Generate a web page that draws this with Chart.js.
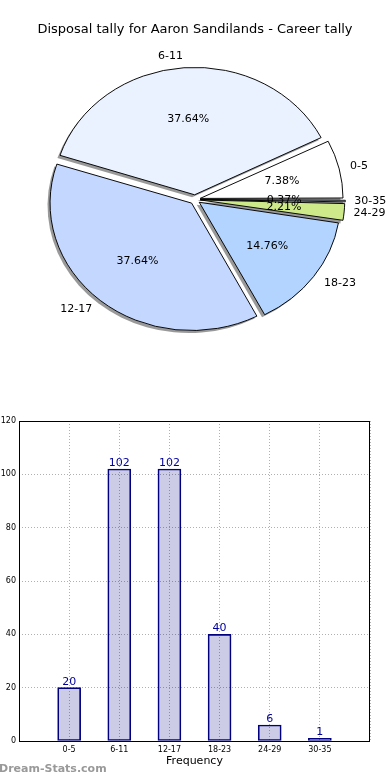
<!DOCTYPE html>
<html>
<head>
<meta charset="utf-8">
<title>Disposal tally</title>
<script src="https://cdn.jsdelivr.net/npm/chart.js@4.4.1/dist/chart.umd.min.js"></script>
<style>
    body { margin: 0; width: 390px; height: 780px; background: #fff; overflow: hidden; position: relative; }
    #pieChart { position: absolute; left: 0; top: 0; }
    #barChart { position: absolute; left: 0; top: 400px; }
    #watermark { position: absolute; left: -1px; top: 762px; font: bold 11px "DejaVu Sans", sans-serif; color: #999; }
</style>
</head>
<body>
<canvas id="pieChart" width="390" height="400"></canvas>
<canvas id="barChart" width="390" height="380"></canvas>
<div id="watermark">Dream-Stats.com</div>
<script>
const chartTitle = 'Disposal tally for Aaron Sandilands - Career tally';
const categories = ['0-5', '6-11', '12-17', '18-23', '24-29', '30-35'];
const tallies = [20, 102, 102, 40, 6, 1];
const sliceColors = ['#ffffff', '#eaf1ff', '#c4d7ff', '#b3d4ff', '#cde98a', '#ddeeff'];
const yTicks = [0, 20, 40, 60, 80, 100, 120];
const axisTitle = 'Frequency';

Chart.defaults.font.family = '"DejaVu Sans", sans-serif';
Chart.defaults.color = '#000';

// pie goes counter-clockwise from east in the original, chart.js goes clockwise
const pieLabels = categories.slice().reverse();
const pieValues = tallies.slice().reverse();
const pieColors = sliceColors.slice().reverse();
const total = tallies.reduce((sum, v) => sum + v, 0);

const squash = 0.9;      // the original pie is an ellipse
const shadowShift = 2.5;

function sliceGeometry(arc) {
    const off = arc.options.offset / 4;
    const mid = (arc.startAngle + arc.endAngle) / 2;
    return { off: off, cos: Math.cos(mid), sin: Math.sin(mid) };
}

const ellipsePie = {
    id: 'ellipsePie',
    beforeDatasetsDraw(chart) {
        const ctx = chart.ctx;
        const arcs = chart.getDatasetMeta(0).data;
        const cx = arcs[0].x, cy = arcs[0].y;
        ctx.save();
        ctx.translate(cx, cy);
        ctx.scale(1, squash);
        ctx.translate(-cx, -cy);

        // shadows sit behind every wedge
        ctx.fillStyle = 'rgba(0,0,0,0.4)';
        arcs.forEach(arc => {
            const g = sliceGeometry(arc);
            const fix = 1 - Math.sin(Math.min(Math.PI, arc.circumference));
            const r = arc.outerRadius + g.off * fix;
            const x = arc.x + g.cos * g.off - shadowShift;
            const y = arc.y + g.sin * g.off + shadowShift / squash;
            ctx.beginPath();
            ctx.moveTo(x, y);
            ctx.arc(x, y, r, arc.startAngle, arc.endAngle);
            ctx.closePath();
            ctx.fill();
        });
    },
    afterDatasetsDraw(chart) {
        const ctx = chart.ctx;
        ctx.restore();

        const arcs = chart.getDatasetMeta(0).data;
        ctx.save();
        ctx.font = '11px "DejaVu Sans"';
        ctx.fillStyle = '#000';
        ctx.textBaseline = 'middle';
        arcs.forEach((arc, i) => {
            const g = sliceGeometry(arc);
            const r = arc.outerRadius;
            const pct = (pieValues[i] / total * 100).toFixed(2) + '%';
            ctx.textAlign = 'center';
            ctx.fillText(pct, arc.x + g.cos * (0.6 * r + g.off), arc.y + g.sin * (0.6 * r + g.off) * squash);
            ctx.textAlign = g.cos >= 0 ? 'left' : 'right';
            ctx.fillText(pieLabels[i], arc.x + g.cos * (1.1 * r + g.off), arc.y + g.sin * (1.1 * r + g.off) * squash);
        });
        ctx.restore();
    }
};

new Chart(document.getElementById('pieChart'), {
    type: 'pie',
    data: {
        labels: pieLabels,
        datasets: [{
            data: pieValues,
            backgroundColor: pieColors,
            borderColor: '#000',
            borderWidth: 1,
            offset: 21,
            radius: 140,
            clip: false
        }]
    },
    options: {
        responsive: false,
        animation: false,
        devicePixelRatio: 1,
        rotation: 90,
        radius: 140,
        layout: { padding: { bottom: 48.6 } },
        plugins: {
            legend: { display: false },
            tooltip: { enabled: false },
            title: {
                display: true,
                text: chartTitle,
                color: '#000',
                font: { size: 13, weight: 'normal' },
                padding: { top: 22, bottom: 10 }
            }
        }
    },
    plugins: [ellipsePie]
});

const barExtras = {
    id: 'barExtras',
    afterDatasetsDraw(chart) {
        const ctx = chart.ctx;
        const area = chart.chartArea;
        ctx.save();
        // value labels
        ctx.font = '11px "DejaVu Sans"';
        ctx.fillStyle = '#000099';
        ctx.textAlign = 'center';
        ctx.textBaseline = 'alphabetic';
        chart.getDatasetMeta(0).data.forEach((bar, i) => {
            ctx.fillText(String(tallies[i]), bar.x, bar.y - 3);
        });
        // frame
        ctx.strokeStyle = '#000';
        ctx.lineWidth = 1;
        ctx.strokeRect(Math.round(area.left) + 0.5, Math.round(area.top) + 0.5,
            Math.round(area.right - area.left) - 1, Math.round(area.bottom - area.top));
        ctx.restore();
    }
};

new Chart(document.getElementById('barChart'), {
    type: 'bar',
    data: {
        datasets: [{
            data: tallies.map((v, i) => ({ x: i, y: v })),
            backgroundColor: 'rgba(0,0,128,0.2)',
            borderColor: '#000080',
            borderWidth: 1,
            borderSkipped: false,
            barThickness: 23
        }]
    },
    options: {
        responsive: false,
        animation: false,
        devicePixelRatio: 1,
        layout: { padding: { top: 21, right: 20, bottom: 10, left: 0 } },
        plugins: {
            legend: { display: false },
            tooltip: { enabled: false }
        },
        scales: {
            x: {
                type: 'linear',
                min: -1,
                max: categories.length,
                offset: false,
                grid: { offset: false, color: '#b0b0b0', lineWidth: 1, drawTicks: false },
                border: { display: false, dash: [1, 2] },
                ticks: {
                    stepSize: 1,
                    autoSkip: false,
                    maxRotation: 0,
                    padding: 4,
                    font: { size: 8 },
                    callback: v => categories[v] !== undefined ? categories[v] : ''
                },
                title: {
                    display: true,
                    text: axisTitle,
                    font: { size: 11 },
                    padding: { top: 0, bottom: 2 }
                },
                afterFit: scale => { scale.height = 29; }
            },
            y: {
                min: yTicks[0],
                max: yTicks[yTicks.length - 1],
                grid: { color: '#b0b0b0', lineWidth: 1, drawTicks: false },
                border: { display: false, dash: [1, 2] },
                ticks: {
                    stepSize: yTicks[1] - yTicks[0],
                    padding: 3,
                    font: { size: 8 }
                },
                afterFit: scale => { scale.width = 19; }
            }
        }
    },
    plugins: [barExtras]
});
</script>
</body>
</html>
